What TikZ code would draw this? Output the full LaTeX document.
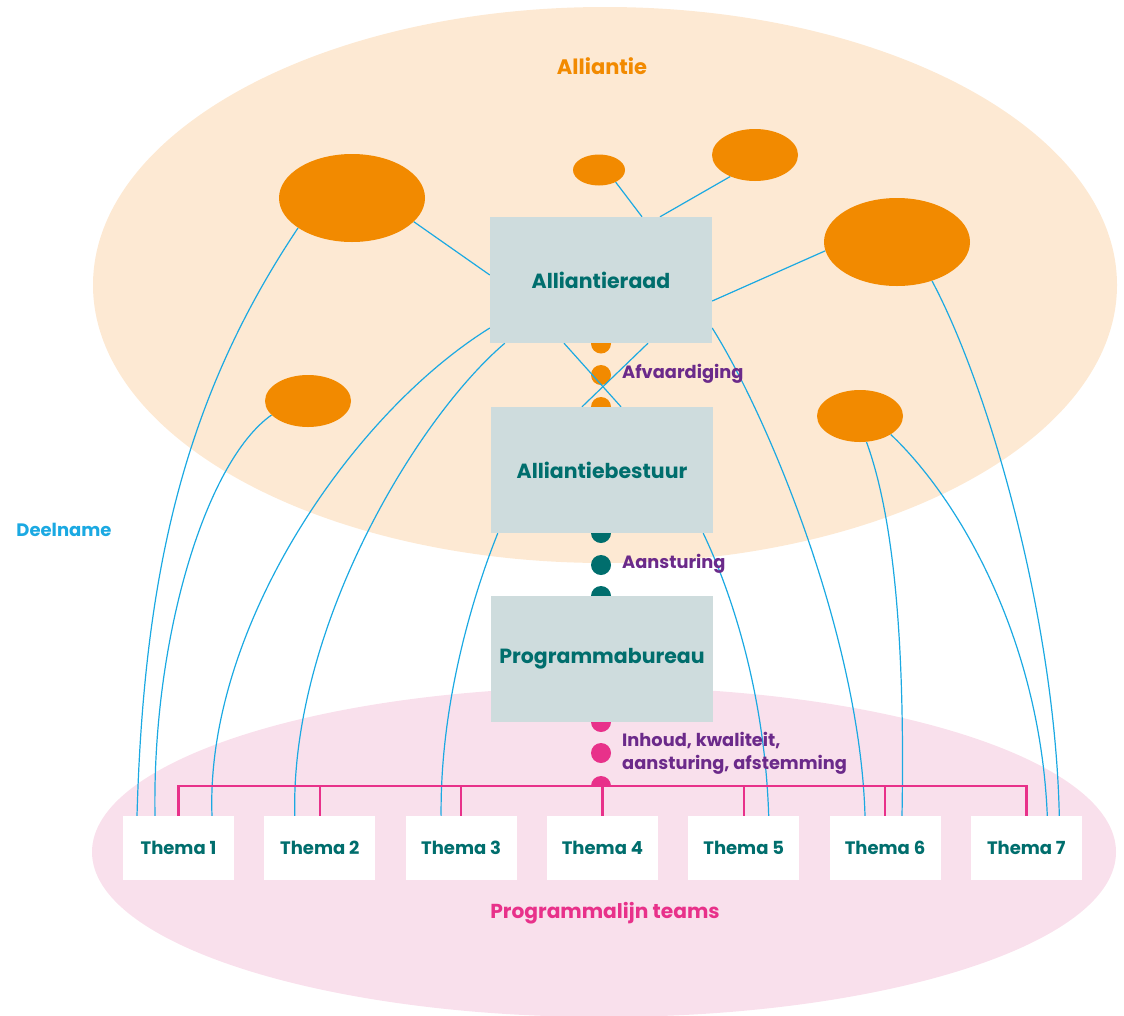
\documentclass[tikz,border=0pt]{standalone}
\usepackage{fontspec}
\setmainfont{Poppins}
\usetikzlibrary{shapes.geometric}
\definecolor{peach}{HTML}{FDE9D3}
\definecolor{pinkbg}{HTML}{F9E0EC}
\definecolor{orng}{HTML}{F28A00}
\definecolor{boxgrey}{HTML}{CEDCDD}
\definecolor{tealc}{HTML}{006E6D}
\definecolor{purp}{HTML}{6B2A8A}
\definecolor{cyanc}{HTML}{1BA9E2}
\definecolor{pinkc}{HTML}{E8318A}
\pgfdeclarelayer{bg}
\pgfdeclarelayer{lines}
\pgfsetlayers{bg,lines,main}
\begin{document}
\begin{tikzpicture}[x=1pt,y=-1pt,
  member/.style={ellipse, fill=orng, inner sep=0pt},
  orgbox/.style={rectangle, fill=boxgrey, minimum width=222pt, minimum height=126pt, inner sep=0pt, text=tealc, font=\fontsize{20.5}{22}\selectfont\bfseries},
  themabox/.style={rectangle, fill=white, minimum width=111pt, minimum height=64pt, inner sep=0pt, text=tealc, font=\fontsize{18}{20}\selectfont\bfseries},
  dotc/.style={circle, inner sep=0pt, minimum size=20pt},
  link/.style={draw=cyanc, line width=1.2pt},
  tree/.style={draw=pinkc, line width=2.4pt},
  lbl/.style={anchor=west, inner sep=0pt, text=purp, font=\fontsize{17.8}{23}\selectfont\bfseries, align=left}]
\useasboundingbox (0,0) rectangle (1124,1015);

% background ellipses
\begin{pgfonlayer}{bg}
\fill[peach] (605,285) ellipse [x radius=512pt, y radius=278pt];
\fill[pinkbg] (604,852) ellipse [x radius=512pt, y radius=165pt];
\node[dotc, fill=orng] (o1) at (601,343.5) {};
\node[dotc, fill=orng] (o2) at (601,375) {};
\node[dotc, fill=orng] (o3) at (601,407) {};
\node[dotc, fill=tealc] (d1) at (601,533) {};
\node[dotc, fill=tealc] (d2) at (601,565) {};
\node[dotc, fill=tealc] (d3) at (601,596) {};
\node[dotc, fill=pinkc] (p1) at (601,722) {};
\node[dotc, fill=pinkc] (p2) at (601,753) {};
\begin{scope}
\clip (580,760) rectangle (622,786);
\node[dotc, fill=pinkc] (p3) at (601,786) {};
\end{scope}
\end{pgfonlayer}

% members
\node[member, minimum width=146pt, minimum height=88pt] (m1) at (352,198) {};
\node[member, minimum width=52pt, minimum height=31pt] (m2) at (599,170) {};
\node[member, minimum width=86pt, minimum height=52pt] (m3) at (755,155) {};
\node[member, minimum width=146pt, minimum height=88pt] (m4) at (897,242) {};
\node[member, minimum width=86pt, minimum height=52pt] (m5) at (308,401) {};
\node[member, minimum width=86pt, minimum height=52pt] (m6) at (860,416) {};

% organisation boxes
\node[orgbox] (b1) at (601,280) {Alliantieraad};
\node[orgbox] (b2) at (602,470) {Alliantiebestuur};
\node[orgbox] (b3) at (602,659) {Programmabureau};

% thema boxes
\foreach \i/\x in {1/178.5,2/319.8,3/461.1,4/602.4,5/743.7,6/885,7/1026.3}
  \node[themabox] (t\i) at (\x,848) {Thema \i};

% labels
\node[text=orng, font=\fontsize{21}{22}\selectfont\bfseries] (lall) at (602,66) {Alliantie};
\node[text=cyanc, font=\fontsize{18}{20}\selectfont\bfseries] (ldeel) at (64,530) {Deelname};
\node[text=pinkc, font=\fontsize{20.2}{22}\selectfont\bfseries] (lprog) at (605,913) {Programmalijn teams};
\node[lbl] (lafv) at (622,374) {Afvaardiging};
\node[lbl] (laan) at (622,564) {Aansturing};
\node[lbl] (linh) at (622,753) {Inhoud, kwaliteit,\\aansturing, afstemming};

% connectors (Deelname)
\begin{pgfonlayer}{lines}
\draw[link] (m1.339) -- ([yshift=5pt]b1.west);
\draw[link] (m2.324) -- ([xshift=41pt]b1.north);
\draw[link] (m3.221) -- ([xshift=59pt]b1.north);
\draw[link] (m4.187) -- ([yshift=-21pt]b1.east);
\draw[link] ([xshift=-37pt]b1.south) -- ([xshift=19pt]b2.north);
\draw[link] ([xshift=47pt]b1.south) -- ([xshift=-20pt]b2.north);
% A
\draw[link] (m1.209) .. controls (187,394) and (144,566) .. ([xshift=-41.5pt]t1.north);
% B
\draw[link] (m5.201) .. controls (205,462) and (152,640) .. ([xshift=-23.5pt]t1.north);
% C
\draw[link] ([yshift=-48pt]b1.west) .. controls (350,415) and (205,630) .. ([xshift=33.5pt]t1.north);
% D
\draw[link] ([xshift=15pt]b1.south west) .. controls (415,420) and (290,630) .. ([xshift=-25pt]t2.north);
% E
\draw[link] ([xshift=7pt]b2.south west) .. controls (475,590) and (440,700) .. ([xshift=-20pt]t3.north);
% J
\draw[link] ([xshift=-10pt]b2.south east) .. controls (735,600) and (765,700) .. ([xshift=25pt]t5.north);
% F
\draw[link] ([yshift=-48pt]b1.east) .. controls (770,420) and (860,640) .. ([xshift=-20pt]t6.north);
% H
\draw[link] (m6.284) .. controls (895,520) and (905,650) .. ([xshift=17pt]t6.north);
% I
\draw[link] (m6.329) .. controls (960,500) and (1040,640) .. ([xshift=21pt]t7.north);
% G
\draw[link] (m4.312) .. controls (990,390) and (1055,620) .. ([xshift=33pt]t7.north);
\end{pgfonlayer}

% programme tree
\coordinate (bus) at (601,786);
\draw[tree] (t1.north) -- (t1.north |- bus) -- (t7.north |- bus) -- (t7.north);
\foreach \i in {2,...,6}
  \draw[tree] (t\i.north) -- (t\i.north |- bus);
\end{tikzpicture}
\end{document}
